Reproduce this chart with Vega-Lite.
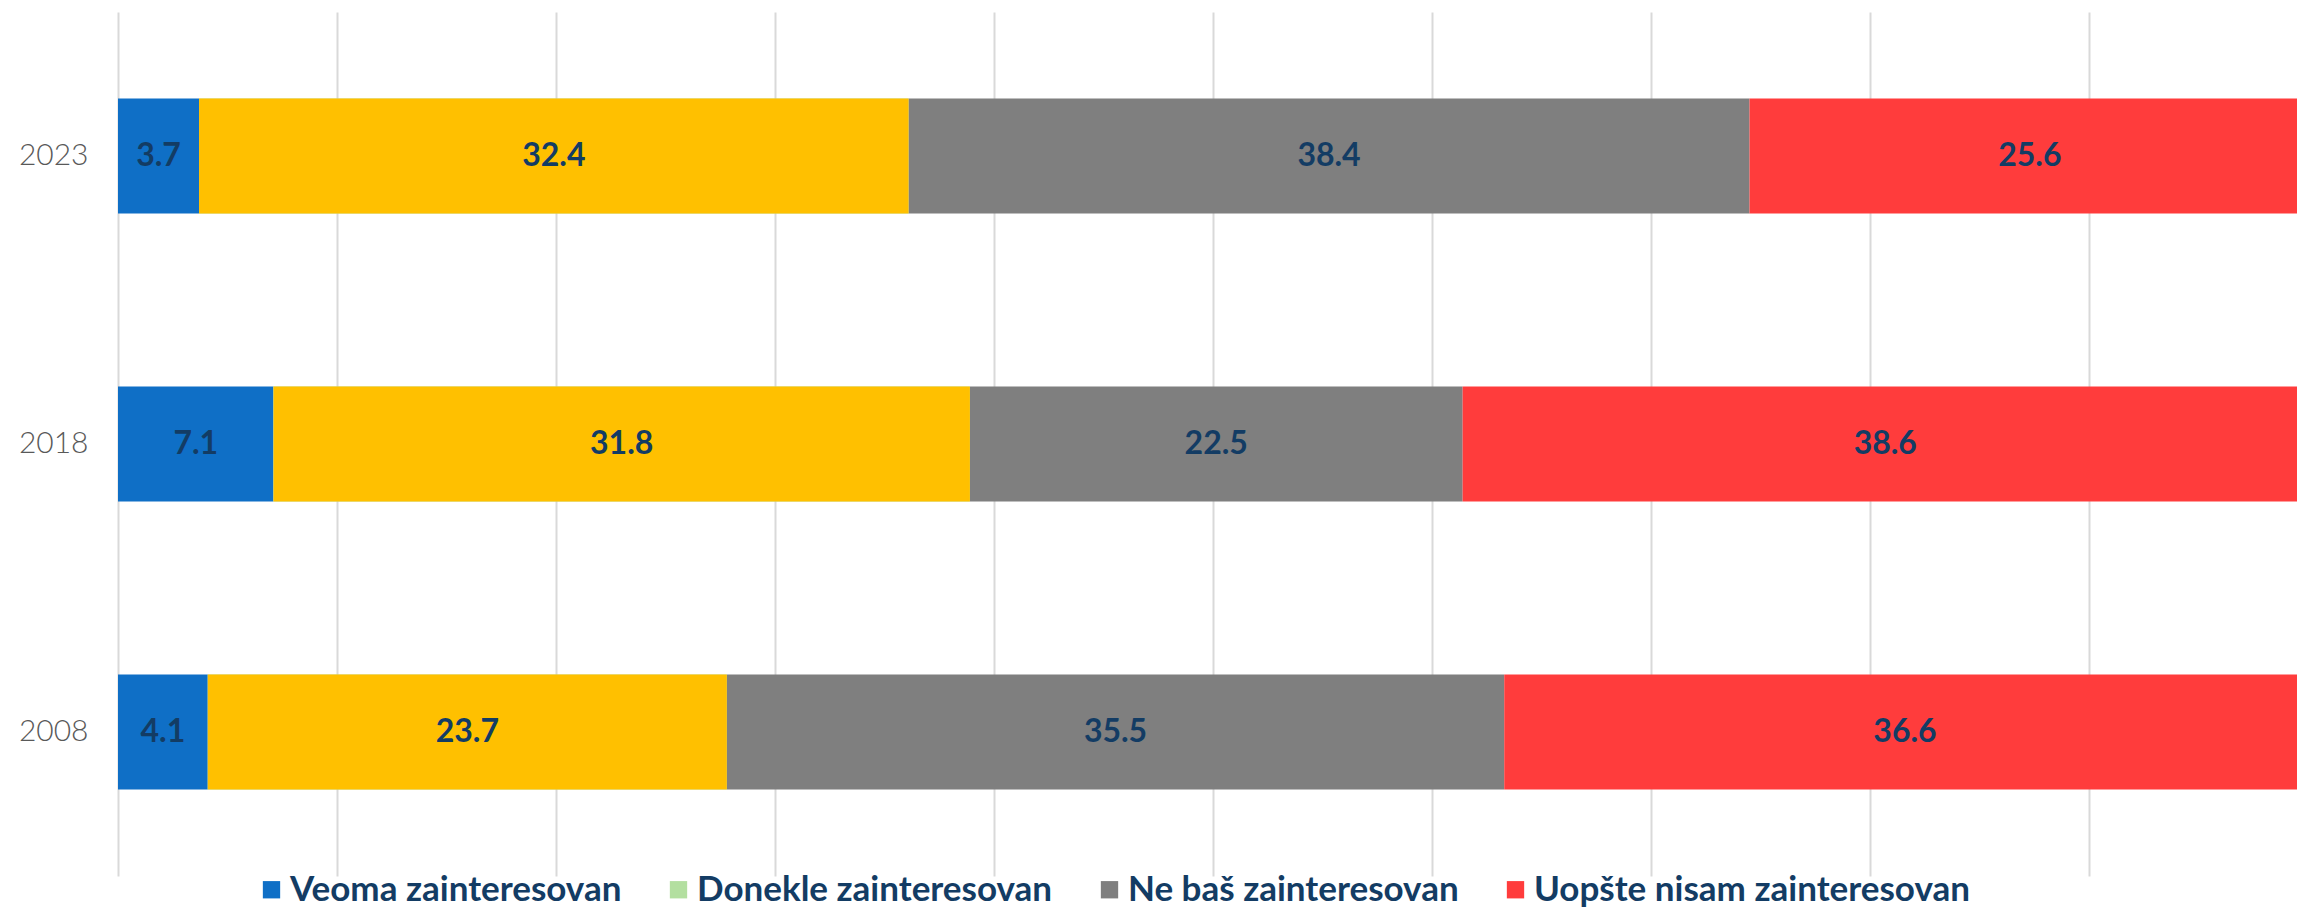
{
  "$schema": "https://vega.github.io/schema/vega-lite/v6.json",
  "width": 2179,
  "height": 864,
  "autosize": {"type": "none"},
  "padding": {"left": 118, "top": 12, "right": 0, "bottom": 31},
  "background": "white",
  "config": {"view": {"stroke": null}, "font": "Lato"},
  "data": {
    "values": [
      {"year": "2023", "cat": "Veoma zainteresovan", "value": 3.7},
      {"year": "2023", "cat": "Donekle zainteresovan", "value": 32.4},
      {"year": "2023", "cat": "Ne baš zainteresovan", "value": 38.4},
      {"year": "2023", "cat": "Uopšte nisam zainteresovan", "value": 25.6},
      {"year": "2018", "cat": "Veoma zainteresovan", "value": 7.1},
      {"year": "2018", "cat": "Donekle zainteresovan", "value": 31.8},
      {"year": "2018", "cat": "Ne baš zainteresovan", "value": 22.5},
      {"year": "2018", "cat": "Uopšte nisam zainteresovan", "value": 38.6},
      {"year": "2008", "cat": "Veoma zainteresovan", "value": 4.1},
      {"year": "2008", "cat": "Donekle zainteresovan", "value": 23.7},
      {"year": "2008", "cat": "Ne baš zainteresovan", "value": 35.5},
      {"year": "2008", "cat": "Uopšte nisam zainteresovan", "value": 36.6}
    ]
  },
  "transform": [
    {"calculate": "indexof(['Veoma zainteresovan','Donekle zainteresovan','Ne baš zainteresovan','Uopšte nisam zainteresovan'], datum.cat)", "as": "rank"},
    {"stack": "value", "groupby": ["year"], "sort": [{"field": "rank", "order": "ascending"}], "as": ["v0", "v1"]},
    {"calculate": "(datum.v0 + datum.v1) / 2", "as": "mid"}
  ],
  "encoding": {
    "y": {
      "field": "year",
      "type": "ordinal",
      "sort": "descending",
      "scale": {"paddingInner": 0.6, "paddingOuter": 0.3},
      "axis": {
        "title": null,
        "domain": false,
        "ticks": false,
        "labelPadding": 30,
        "labelFontSize": 30,
        "labelFont": "Lato",
        "labelFontWeight": 300,
        "labelColor": "#595959"
      }
    }
  },
  "layer": [
    {
      "mark": {"type": "bar", "clip": true},
      "encoding": {
        "x": {
          "field": "v0",
          "type": "quantitative",
          "scale": {"domain": [0, 99.5], "nice": false, "zero": true},
          "axis": {
            "title": null,
            "values": [0, 10, 20, 30, 40, 50, 60, 70, 80, 90],
            "labels": false,
            "ticks": false,
            "domain": false,
            "grid": true,
            "gridColor": "#d9d9d9",
            "gridWidth": 2
          }
        },
        "x2": {"field": "v1"},
        "color": {
          "field": "cat",
          "type": "nominal",
          "scale": {
            "domain": ["Veoma zainteresovan", "Donekle zainteresovan", "Ne baš zainteresovan", "Uopšte nisam zainteresovan"],
            "range": ["#0F6FC6", "#B3DFA0", "#7F7F7F", "#FF3C3C"]
          },
          "legend": {
            "title": null,
            "orient": "none",
            "legendX": 136,
            "legendY": 860,
            "direction": "horizontal",
            "symbolType": "square",
            "symbolSize": 300,
            "symbolStrokeWidth": 0,
            "symbolOpacity": 1,
            "labelFontSize": 35,
            "labelFont": "Lato",
            "labelFontWeight": "bold",
            "labelColor": "#133C64",
            "labelOffset": 1,
            "labelLimit": 1000,
            "columnPadding": 39,
            "padding": 0
          }
        }
      }
    },
    {
      "transform": [{"filter": "datum.cat === 'Donekle zainteresovan'"}],
      "mark": {"type": "bar", "clip": true, "color": "#FFC000"},
      "encoding": {
        "x": {"field": "v0", "type": "quantitative"},
        "x2": {"field": "v1"}
      }
    },
    {
      "mark": {"type": "text", "fontSize": 32, "fontWeight": "bold", "font": "Lato", "color": "#133C64", "baseline": "middle", "align": "center"},
      "encoding": {
        "x": {"field": "mid", "type": "quantitative"},
        "text": {"field": "value", "type": "quantitative", "format": ".1f"}
      }
    }
  ]
}
